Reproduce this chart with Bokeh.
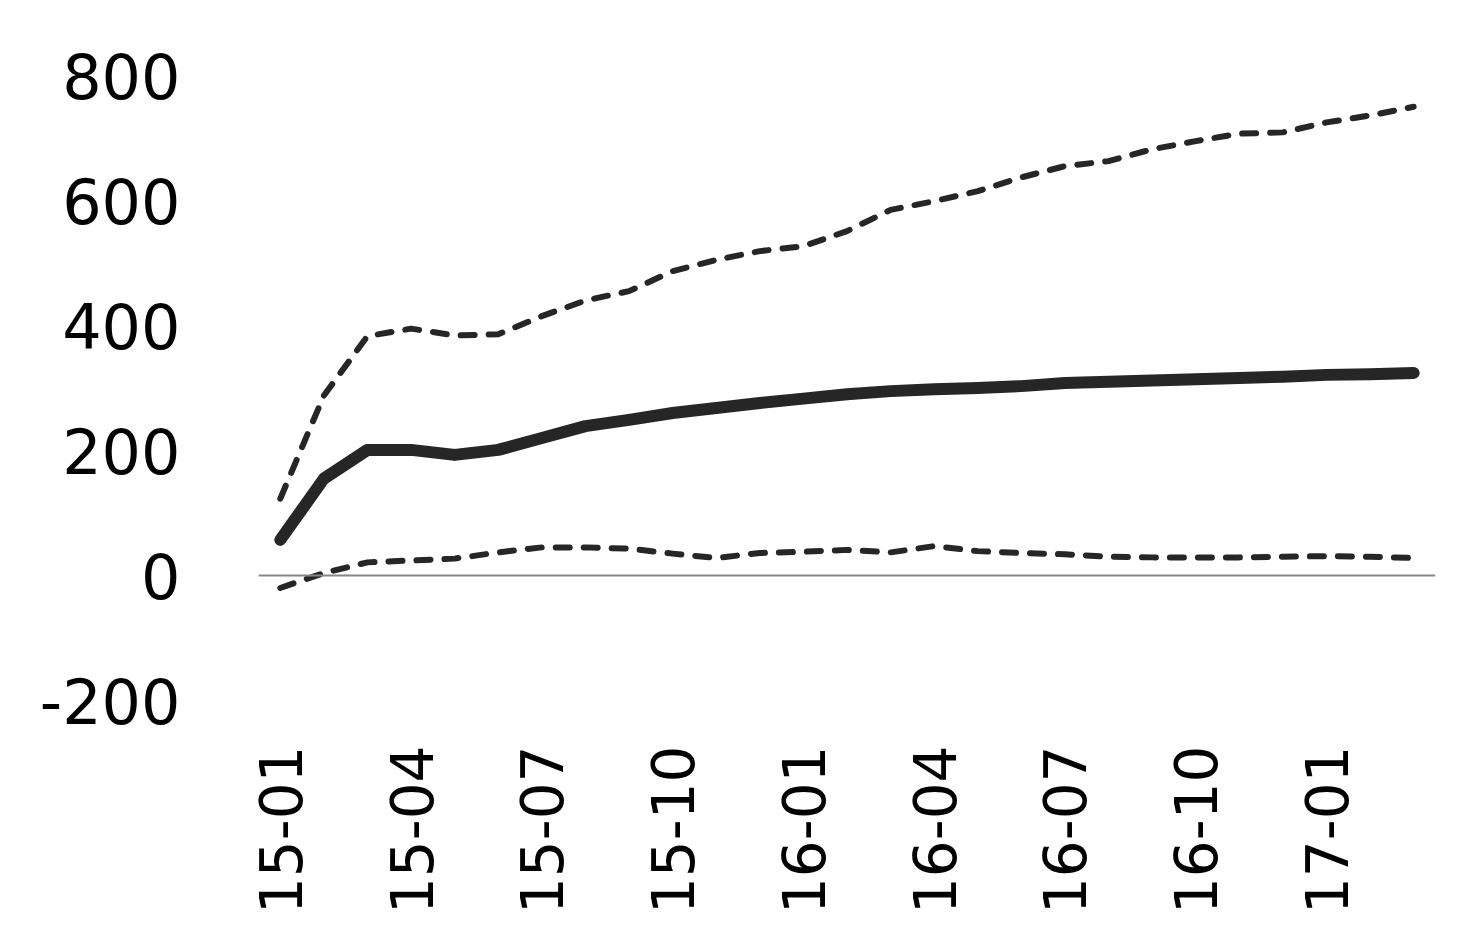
import math
from bokeh.plotting import figure
from bokeh.models import Range1d, FixedTicker, Span
from bokeh.embed import file_html
from bokeh.resources import INLINE

months = ["15-01", "15-02", "15-03", "15-04", "15-05", "15-06", "15-07", "15-08", "15-09",
          "15-10", "15-11", "15-12", "16-01", "16-02", "16-03", "16-04", "16-05", "16-06",
          "16-07", "16-08", "16-09", "16-10", "16-11", "16-12", "17-01", "17-02", "17-03"]
central = [57, 155, 201, 201, 193, 201, 220, 239, 249, 260, 268, 276, 283, 290, 295, 298,
           300, 303, 308, 310, 312, 314, 316, 318, 321, 322, 324]
upper = [123, 288, 383, 395, 384, 386, 415, 440, 455, 487, 505, 519, 527, 551, 585, 599,
         615, 637, 655, 663, 682, 695, 707, 709, 725, 736, 750]
lower = [-20, 4, 21, 24, 27, 37, 45, 45, 43, 35, 28, 36, 38, 41, 37, 47, 39, 36, 34, 30,
         29, 29, 29, 30, 31, 30, 28]
y_ticks = [-200, 0, 200, 400, 600, 800]
label_step = 3

xs = list(range(len(months)))

p = figure(width=1470, height=931, output_backend="svg", toolbar_location=None,
           x_range=Range1d(-0.5, len(months) - 0.5), y_range=Range1d(-200, 800),
           min_border_left=258, min_border_right=35, min_border_top=75, min_border_bottom=231)
p.outline_line_color = None
p.xgrid.visible = False
p.ygrid.visible = False
p.background_fill_color = "white"
p.border_fill_color = "white"

FONT = "DejaVu Sans"
for ax in (p.xaxis[0], p.yaxis[0]):
    ax.axis_line_color = None
    ax.major_tick_line_color = None
    ax.minor_tick_line_color = None
    ax.major_tick_in = 0
    ax.major_tick_out = 0
    ax.minor_tick_in = 0
    ax.minor_tick_out = 0
    ax.major_label_text_font = FONT
    ax.major_label_text_color = "black"

tick_idx = xs[::label_step]
p.xaxis.ticker = FixedTicker(ticks=tick_idx)
p.xaxis.major_label_overrides = {i: months[i] for i in tick_idx}
p.xaxis.major_label_orientation = math.pi / 2
p.xaxis.major_label_standoff = 45
p.xaxis.major_label_text_font_size = "58px"

p.yaxis.ticker = FixedTicker(ticks=y_ticks)
p.yaxis.major_label_overrides = {t: str(t) for t in y_ticks}
p.yaxis.major_label_standoff = 78
p.yaxis.major_label_text_font_size = "62px"

p.add_layout(Span(location=0, dimension="width", line_color="#878787", line_width=2))

for s in (upper, lower):
    p.line(xs, s, line_color="#262626", line_width=6, line_dash="14 14",
           line_cap="round", line_join="round")
p.line(xs, central, line_color="#262626", line_width=12, line_cap="round", line_join="round")

open("out.html", "w").write(file_html(p, INLINE))
